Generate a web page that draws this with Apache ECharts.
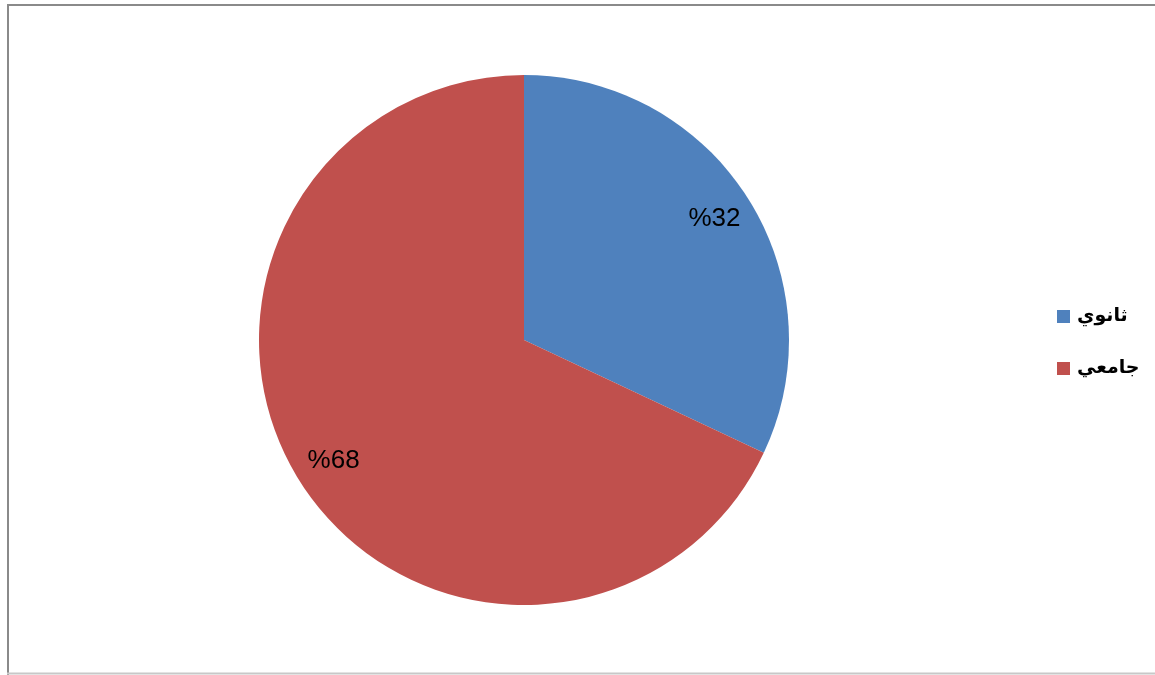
<!DOCTYPE html>
<html>
<head>
<meta charset="utf-8">
<script src="https://cdn.jsdelivr.net/npm/echarts@6/dist/echarts.min.js"></script>
<style>html,body{margin:0;padding:0;background:#fff}#c{width:1155px;height:675px}</style>
</head>
<body>
<div id="c"></div>
<script>
const categories = ['ثانوي', 'جامعي'];
const values = [32, 68];
const colors = ['#4F81BD', '#C0504D'];

const data = categories.map((n, i) => ({ name: n, value: values[i], itemStyle: { color: colors[i] } }));

const chart = echarts.init(document.getElementById('c'));
chart.setOption({
  animation: false,
  backgroundColor: '#ffffff',
  graphic: [
    { type: 'line', shape: { x1: 7, y1: 5, x2: 1160, y2: 5 }, style: { stroke: '#8a8a8a', lineWidth: 2 } },
    { type: 'line', shape: { x1: 8, y1: 4, x2: 8, y2: 675 }, style: { stroke: '#8a8a8a', lineWidth: 2 } },
    { type: 'line', shape: { x1: 7, y1: 673.5, x2: 1160, y2: 673.5 }, style: { stroke: '#c8c8c8', lineWidth: 2 } }
  ],
  legend: {
    orient: 'vertical',
    left: 1052,
    top: 302,
    itemWidth: 13,
    itemHeight: 13,
    itemGap: 33,
    icon: 'rect',
    data: categories,
    textStyle: { fontFamily: 'DejaVu Sans', fontWeight: 'bold', fontSize: 19, color: '#000', padding: [0, 0, 0, 2] }
  },
  series: [
    {
      type: 'pie',
      center: [524, 340],
      radius: [0, 265],
      startAngle: 90,
      clockwise: true,
      label: { show: false },
      labelLine: { show: false },
      emphasis: { disabled: true },
      data: data
    },
    {
      type: 'pie',
      center: [524, 340],
      radius: [180, 265],
      startAngle: 90,
      clockwise: true,
      silent: true,
      itemStyle: { color: 'rgba(0,0,0,0)' },
      label: {
        show: true,
        position: 'inside',
        formatter: p => '%' + p.value,
        fontFamily: 'Liberation Sans, Arial',
        fontSize: 26,
        color: '#000'
      },
      labelLine: { show: false },
      emphasis: { disabled: true },
      data: categories.map((n, i) => ({ name: n, value: values[i], itemStyle: { color: 'rgba(0,0,0,0)' } }))
    }
  ]
});
</script>
</body>
</html>
